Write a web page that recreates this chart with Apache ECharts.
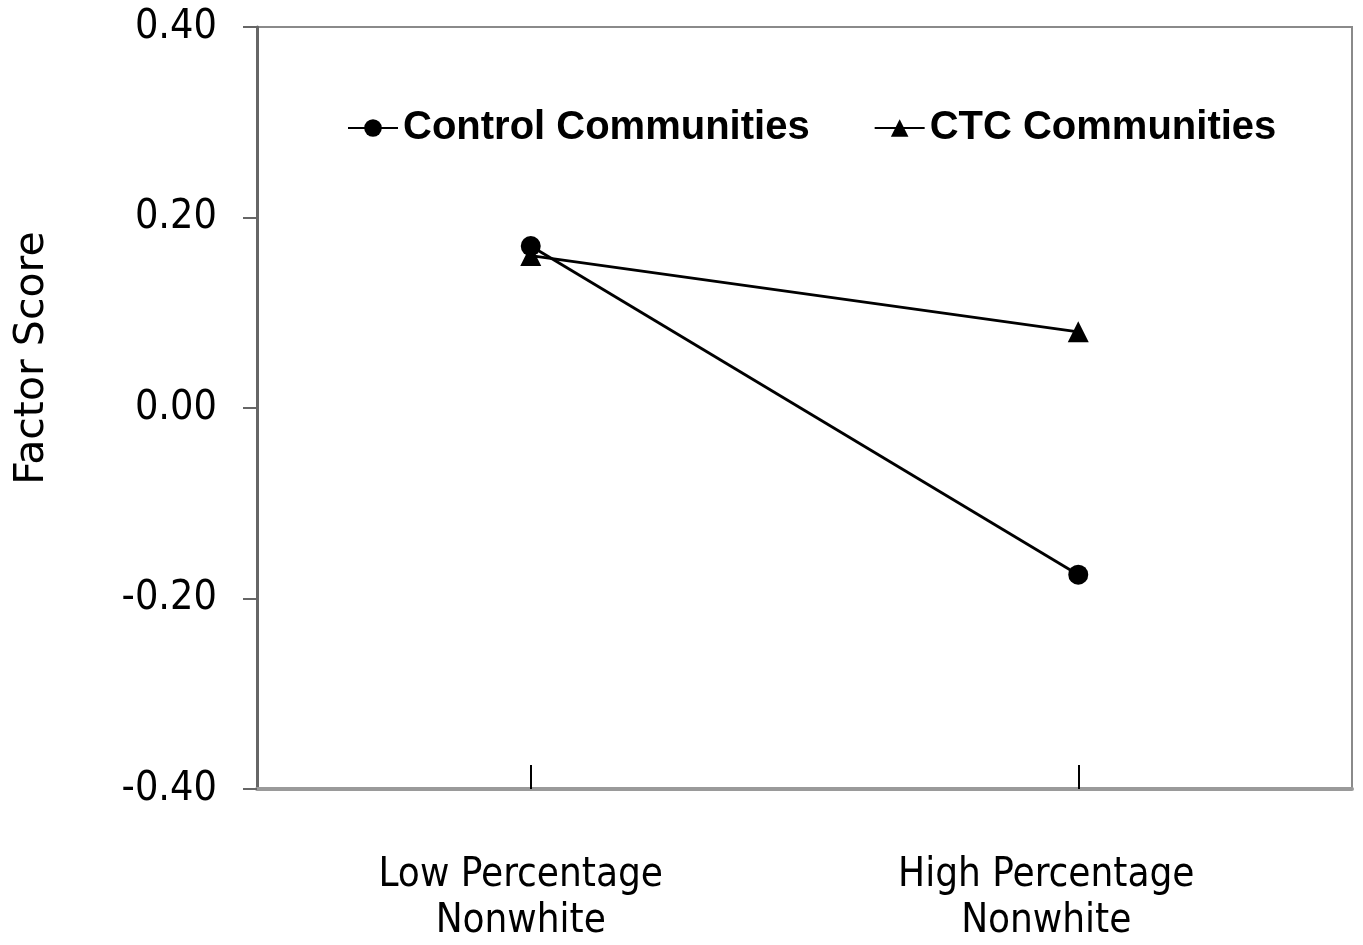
<!DOCTYPE html>
<html>
<head>
<meta charset="utf-8">
<script src="https://cdn.jsdelivr.net/npm/echarts@6/dist/echarts.min.js"></script>
<style>
html,body{margin:0;padding:0;background:#fff;}
#main{width:1363px;height:945px;}
</style>
</head>
<body>
<div id="main"></div>
<script>
var categories = ['Low Percentage\nNonwhite', 'High Percentage\nNonwhite'];
var controlValues = [0.17, -0.175];
var ctcValues = [0.16, 0.08];
var seriesNames = ['Control Communities', 'CTC Communities'];
var yMin = -0.4, yMax = 0.4, yStep = 0.2;

var labelShift = [20, 64];
var tickFont = "'DejaVu Sans Condensed', 'DejaVu Sans', sans-serif";

var chart = echarts.init(document.getElementById('main'));
chart.setOption({
  animation: false,
  backgroundColor: '#fff',
  grid: {
    left: 257, right: 11, top: 27, bottom: 155,
    show: true, borderColor: '#8a8a8a', borderWidth: 2, containLabel: false
  },
  legend: {
    left: 342, top: 103,
    itemGap: 64, itemWidth: 50, itemHeight: 22,
    data: seriesNames,
    textStyle: {fontFamily: 'Liberation Sans', fontWeight: 'bold', fontSize: 40, color: '#000'}
  },
  xAxis: {
    type: 'category',
    data: categories.map(function (c, i) {
      return {value: c, textStyle: {padding: [0, labelShift[i], 0, 0]}};
    }),
    boundaryGap: true,
    axisLine: {onZero: false, lineStyle: {color: '#9a9a9a', width: 4}},
    axisTick: {show: true, inside: true, alignWithLabel: true, length: 24, lineStyle: {color: '#000', width: 2}},
    axisLabel: {
      margin: 64, color: '#000', fontFamily: tickFont, fontSize: 40, lineHeight: 46
    },
    splitLine: {show: false}
  },
  yAxis: {
    type: 'value',
    min: yMin, max: yMax, interval: yStep,
    axisLine: {show: true, lineStyle: {color: '#666', width: 3}},
    axisTick: {show: true, inside: false, length: 14, lineStyle: {color: '#666', width: 2}},
    axisLabel: {
      margin: 40, color: '#000', fontFamily: tickFont, fontSize: 41,
      formatter: function (v) { return v.toFixed(2); }
    },
    splitLine: {show: false}
  },
  graphic: [{
    type: 'text',
    x: 32, y: 358,
    rotation: Math.PI / 2,
    style: {
      text: 'Factor Score', fontFamily: "'DejaVu Sans', sans-serif", fontSize: 41, fill: '#000',
      textAlign: 'center', textVerticalAlign: 'middle'
    }
  }],
  series: [{
    name: seriesNames[0],
    type: 'line',
    data: controlValues,
    symbol: 'circle', symbolSize: 20,
    lineStyle: {color: '#000', width: 2.8},
    itemStyle: {color: '#000'},
    z: 3
  }, {
    name: seriesNames[1],
    type: 'line',
    data: ctcValues,
    symbol: 'triangle', symbolSize: 21,
    lineStyle: {color: '#000', width: 2.8},
    itemStyle: {color: '#000'},
    z: 2
  }]
});
</script>
</body>
</html>
